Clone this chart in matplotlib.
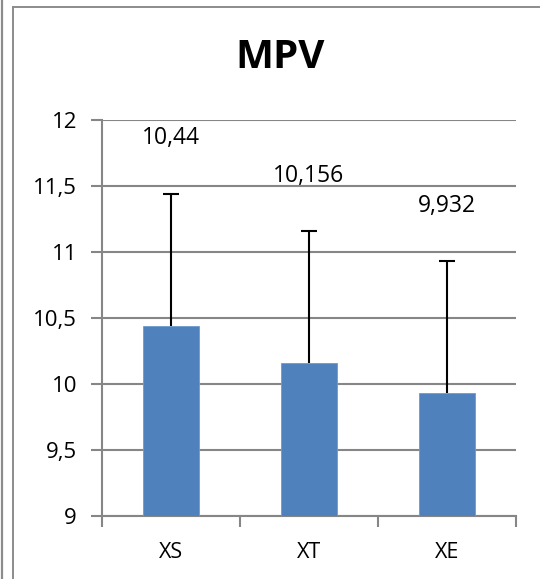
import matplotlib
matplotlib.use("Agg")
import matplotlib.pyplot as plt
from matplotlib.lines import Line2D

categories = ["XS", "XT", "XE"]
values = [10.44, 10.156, 9.932]
errors_up = [1.0, 1.0, 1.0]
yticks = [9, 9.5, 10, 10.5, 11, 11.5, 12]
ytick_labels = ["9", "9,5", "10", "10,5", "11", "11,5", "12"]
value_labels = ["10,44", "10,156", "9,932"]
title = "MPV"

bar_color = "#4F81BD"
grid_color = "#868686"
font = ["Open Sans", "DejaVu Sans"]

W, H, DPI = 540, 579, 100
fig = plt.figure(figsize=(W / DPI, H / DPI), dpi=DPI)
fig.patch.set_facecolor("white")

# chart frame: outer sheet line and chart-area border (left/top)
fig.add_artist(Line2D([1.5 / W, 1.5 / W], [0, 1], color="#8c8c8c", lw=1.6))
fig.add_artist(Line2D([13 / W, 13 / W], [0, 1 - 7 / H], color="#8c8c8c", lw=1.4))
fig.add_artist(Line2D([13 / W, 1], [1 - 7 / H, 1 - 7 / H], color="#8c8c8c", lw=1.4))

left, right, top, bottom = 102, 516, 120, 516
ax = fig.add_axes([left / W, 1 - bottom / H, (right - left) / W, (bottom - top) / H])

x = list(range(len(categories)))
ax.bar(x, values, width=0.4, color=bar_color, edgecolor="#6f9bd0", linewidth=0.6, zorder=3)
_, caps, _ = ax.errorbar(x, values, yerr=[[0] * len(values), errors_up], fmt="none",
                         ecolor="black", elinewidth=1.5, capsize=5.5, capthick=1.5, zorder=4)
# only the upper whisker carries a cap
caps[0].set_visible(False)

for xi, v, e, lab in zip(x, values, errors_up, value_labels):
    ax.text(xi, v + e + 0.42, lab, ha="center", va="center", fontsize=16.5,
            family=font, color="black", zorder=5)

ax.set_xlim(-0.5, len(categories) - 0.5)
ax.set_ylim(9, 12)
ax.set_yticks(yticks)
ax.set_yticklabels(ytick_labels, family=font, fontsize=16)
ax.set_xticks(x)
ax.set_xticklabels(categories, family=font, fontsize=15.5)
ax.tick_params(axis="x", length=0, pad=18.5)
ax.tick_params(axis="y", length=8, width=1.5, color=grid_color, pad=10)

# category boundary ticks below the x axis
ax.set_xticks([-0.5, 0.5, 1.5, 2.5], minor=True)
ax.tick_params(axis="x", which="minor", length=8, width=1.5, color=grid_color, direction="out")

ax.grid(axis="y", color=grid_color, linewidth=1.5, zorder=0)
for s in ["top", "right"]:
    ax.spines[s].set_visible(False)
for s in ["left", "bottom"]:
    ax.spines[s].set_color(grid_color)
    ax.spines[s].set_linewidth(1.5)

fig.text(280.5 / W, 1 - 57.5 / H, title, ha="center", va="center",
         fontsize=29, fontweight="bold", family=font)

fig.savefig("out.png", dpi=DPI)
